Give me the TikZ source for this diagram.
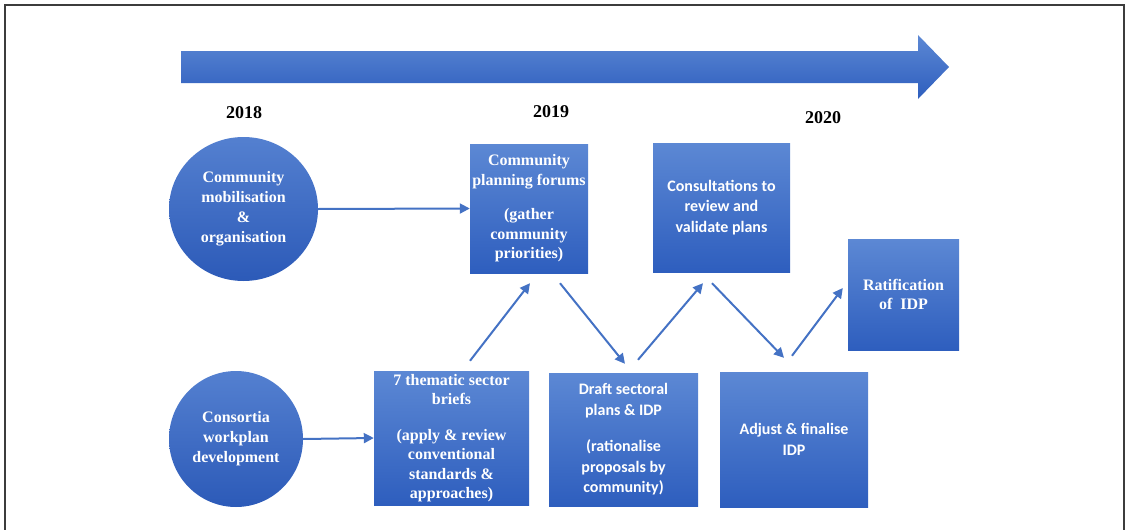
\documentclass[tikz,border=0pt]{standalone}
\usepackage{fontspec}
\usetikzlibrary{shapes.geometric,arrows.meta}
\newfontfamily\tnrfont{Liberation Serif}
\newfontfamily\calfont{Carlito}
\definecolor{btop}{RGB}{92,136,212}
\definecolor{bbot}{RGB}{46,94,190}
\definecolor{etop}{RGB}{84,128,208}
\definecolor{ebot}{RGB}{44,90,184}
\definecolor{conncol}{RGB}{68,114,196}
\definecolor{framecol}{RGB}{60,60,60}
\tikzset{
  ellnode/.style={ellipse, inner sep=0pt, top color=etop, bottom color=ebot,
    text=white, align=center, font=\tnrfont\bfseries\fontsize{16}{20}\selectfont},
  stepbox/.style={rectangle, inner sep=0pt, top color=btop, bottom color=bbot,
    text=white, align=center},
  tnr/.style={font=\tnrfont\bfseries\fontsize{16}{19.5}\selectfont},
  cal/.style={font=\calfont\bfseries\fontsize{16}{20.5}\selectfont},
  yearlbl/.style={font=\tnrfont\bfseries\fontsize{18}{20}\selectfont, text=black},
  conn/.style={draw=conncol, line width=2pt, -{Triangle[length=10pt,width=10pt]}},
}
\begin{document}
\begin{tikzpicture}[x=1pt,y=-1pt]
\useasboundingbox (0,0) rectangle (1128,530);
% frame
\draw[framecol, line width=1.6pt] (5,530) -- (5,5) -- (1124,5) -- (1124,530);
% timeline arrow
\path[top color=btop, bottom color=bbot]
  (181,51) -- (918,51) -- (918,35) -- (949,67) -- (918,99) -- (918,83) -- (181,83) -- cycle;
% years
\node[yearlbl] (y2018) at (244,113) {2018};
\node[yearlbl] (y2019) at (551,112) {2019};
\node[yearlbl] (y2020) at (823,118) {2020};
% ellipses
\node[ellnode, minimum width=149pt, minimum height=144pt] (mob) at (243.5,209)
  {Community\\mobilisation\\\&\\organisation};
\node[ellnode, minimum width=134pt, minimum height=136pt] (cons) at (236,439)
  {Consortia\\workplan\\development};
% boxes
\node[stepbox, tnr, minimum width=118pt, minimum height=129pt] (forum) at (529,208.5)
  {Community\\planning forums\\[15pt](gather\\community\\priorities)};
\node[stepbox, cal, minimum width=137pt, minimum height=129pt] (consult) at (721.5,207.5)
  {Consultations to\\review and\\validate plans};
\node[stepbox, tnr, minimum width=111pt, minimum height=111pt] (ratif) at (903.5,294.5)
  {Ratification\\of\ \ IDP};
\node[stepbox, tnr, minimum width=155pt, minimum height=134pt] (brief) at (451.5,438)
  {7 thematic sector\\briefs\\[16pt](apply \& review\\conventional\\standards \&\\approaches)};
\node[stepbox, cal, minimum width=149pt, minimum height=133pt] (draft) at (623.5,439.5)
  {Draft sectoral\\plans \& IDP\\[16pt](rationalise\\proposals by\\community)};
\node[stepbox, cal, minimum width=148pt, minimum height=135pt] (adjust) at (794,439.5)
  {Adjust \& finalise\\IDP};
% connectors
\draw[conn] (mob.east) -- (forum.west);
\draw[conn] (cons.east) -- (brief.west);
\draw[conn] ([shift={(18.5,-10)}]brief.north) -- ([shift={(1,10)}]forum.south);
\draw[conn] ([shift={(31,10)}]forum.south) -- ([shift={(1.5,-9)}]draft.north);
\draw[conn] ([shift={(14.5,-13)}]draft.north) -- ([shift={(-18.5,11)}]consult.south);
\draw[conn] ([shift={(-9.5,11)}]consult.south) -- ([shift={(-10,-14)}]adjust.north);
\draw[conn] ([shift={(-2,-16)}]adjust.north) -- ([shift={(-5,-6.5)}]ratif.west);
\end{tikzpicture}
\end{document}
